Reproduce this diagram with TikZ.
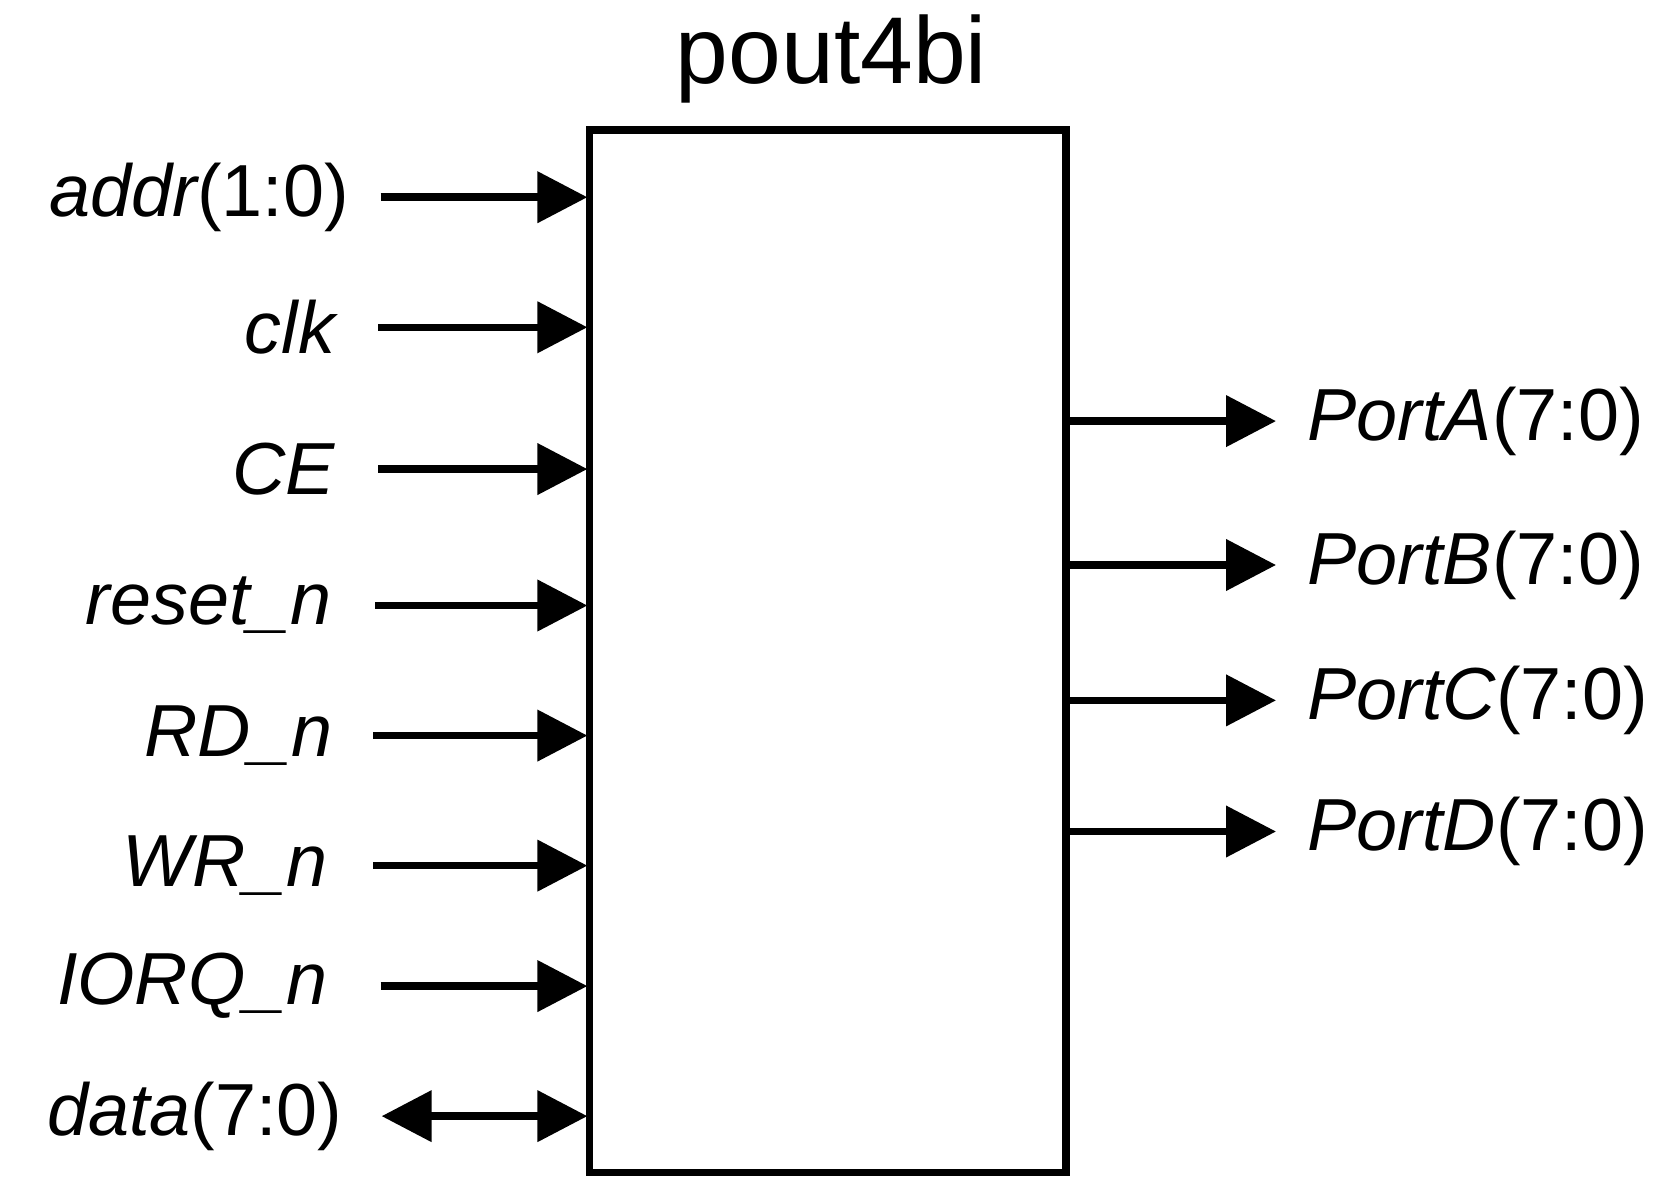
\documentclass[tikz,border=0pt]{standalone}
\usepackage{fontspec}
\setmainfont{Liberation Sans}
\usetikzlibrary{arrows.meta}
\begin{document}
\begin{tikzpicture}[x=0.01066cm,y=-0.01066cm,
  sig/.style={line width=0.075cm,-{Triangle[length=0.5cm,width=0.5cm]}},
  bsig/.style={line width=0.075cm,{Triangle[length=0.5cm,width=0.5cm]}-{Triangle[length=0.5cm,width=0.5cm]}},
  lbl/.style={font=\fontsize{21}{25}\selectfont,inner sep=0pt}]
\useasboundingbox (0,0) rectangle (1560,1122);
\draw[line width=0.075cm] (553,122) rectangle (1000,1100);
\node[font=\fontsize{27}{32}\selectfont] (title) at (780,55) {pout4bi};
\foreach \n/\y/\xs/\xe/\t in {a/185/357/328/{\itshape addr}(1:0), b/307/355/315/{\itshape clk}, c/440/355/315/{\itshape CE}, d/568/352/312/{\itshape reset\_n}, e/690/350/313/{\itshape RD\_n}, f/812/350/308/{\itshape WR\_n}, g/925/357/308/{\itshape IORQ\_n}}{
  \node[lbl,anchor=east] (l\n) at (\xe,\y) {\t};
  \coordinate (s\n) at (\xs,\y);
  \coordinate (e\n) at (551,\y);
  \draw[sig] (s\n) -- (e\n);
}
\node[lbl,anchor=east] (lh) at (322,1047) {{\itshape data}(7:0)};
\coordinate (sh) at (358,1047);
\coordinate (eh) at (551,1047);
\draw[bsig] (sh) -- (eh);
\foreach \n/\y/\t in {A/395/{\itshape PortA}(7:0), B/530/{\itshape PortB}(7:0), C/657/{\itshape PortC}(7:0), D/780/{\itshape PortD}(7:0)}{
  \coordinate (o\n) at (1002,\y);
  \coordinate (p\n) at (1197,\y);
  \draw[sig] (o\n) -- (p\n);
  \node[lbl,anchor=west] (q\n) at (1226,\y) {\t};
}
\end{tikzpicture}
\end{document}
